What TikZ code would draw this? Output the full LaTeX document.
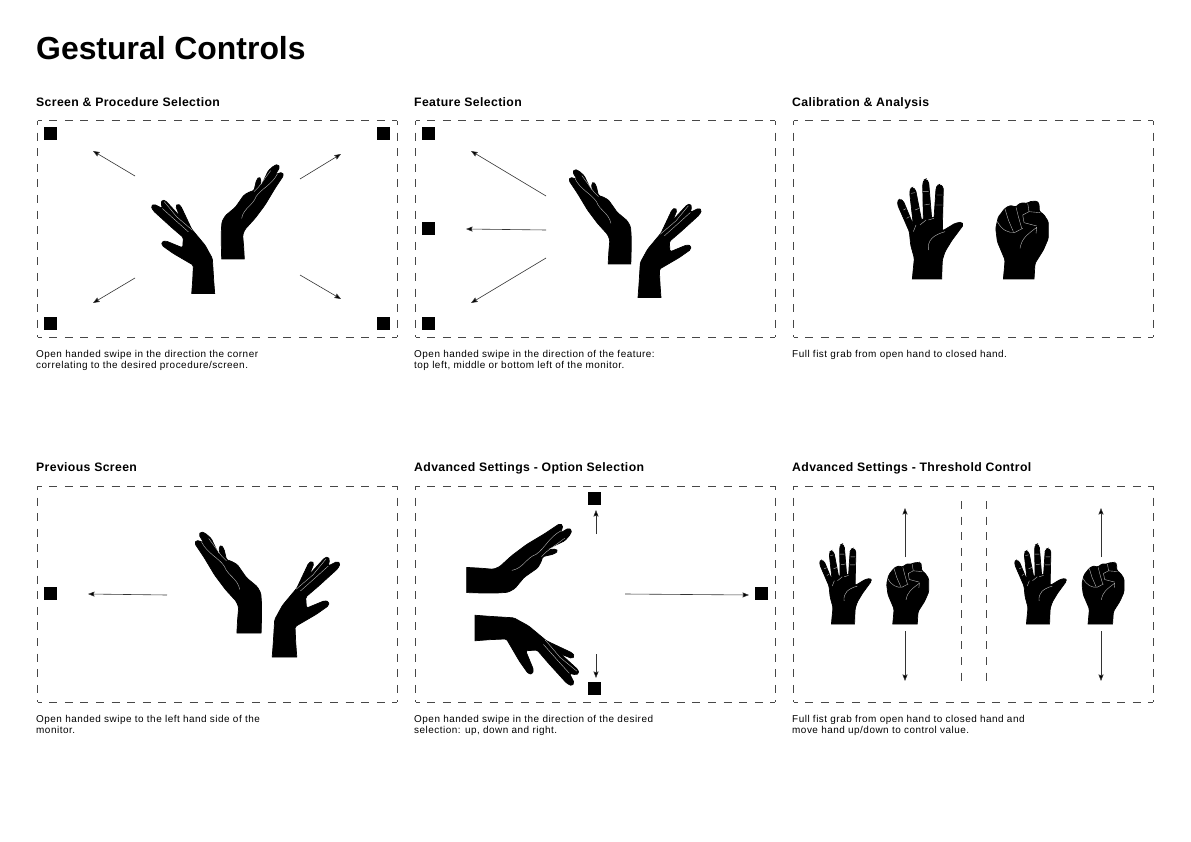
\documentclass[tikz,border=0pt]{standalone}
\usepackage{fontspec}
\setmainfont{Liberation Sans}
\newfontfamily\headfont[LetterSpace=3]{Liberation Sans}
\newfontfamily\capfont[LetterSpace=5]{Liberation Sans}
\usetikzlibrary{arrows.meta}
\tikzset{
  panel/.style={draw=black!72,line width=1pt,dash pattern=on 8pt off 7.6pt,dash phase=4pt},
  divider/.style={draw=black!72,line width=1pt,dash pattern=on 8pt off 7.6pt},
  marker/.style={fill=black,minimum size=13pt,inner sep=0pt,outer sep=0pt},
  swipe/.style={draw=black!80,line width=0.6pt,-{Stealth[length=6.5pt,width=5pt,inset=0.8pt,fill=black]}},
  crease/.style={draw=black!28,line width=0.4pt},
  solid hand/.style={fill=black,draw=black,line width=0.7pt},
  title/.style={anchor=base west,inner sep=0pt,font=\fontsize{31.9}{34}\selectfont\bfseries},
  heading/.style={anchor=base west,inner sep=0pt,font=\headfont\fontsize{12.25}{14}\selectfont\bfseries},
  caption/.style={anchor=north west,inner sep=0pt,align=left,font=\capfont\fontsize{9.95}{11}\selectfont},
}
\newcommand{\handN}{\begin{scope}[shift={(-309,-327)}]
\path[solid hand] (274,290) [sharp corners] -- (275,327)--(343,327)--(341,290) [rounded corners=1.5pt] --(338,255)--(345,238)--(375,205)--(405,165)--(435,115)--(461,76)--(457,67)--(445,70)--(436,74)--(449,52)--(444,43)--(432,47)--(415,62)--(397,100)--(390,112)--(393,87)--(387,80)--(379,92)--(372,122)--(360,125)--(342,135)--(316,172)--(286,197)--(276,215)--(274,240)--cycle;
\draw[crease] (335,205) .. controls (340,175) and (370,165) .. (378,140) .. controls (395,115) and (425,105) .. (442,72);
\draw[crease] (372,125)--(385,112)--(422,62);
\end{scope}}
\newcommand{\handT}{\begin{scope}[shift={(-219.5,-430)}]
\path[solid hand] (188,390) [sharp corners] -- (185,430)--(254,430)--(251,390) [rounded corners=1.5pt] --(247,325)--(225,285)--(185,237)--(152,167)--(143,161)--(137,168)--(150,200)--(140,188)--(107,152)--(97,149)--(93,158)--(97,175)--(72,162)--(63,168)--(70,182)--(125,232)--(160,262)--(158,293)--(107,272)--(95,275)--(96,286)--(130,310)--(190,345)--cycle;
\draw[crease] (103,155)--(140,200)--(187,240);
\draw[crease] (97,175)--(130,205)--(175,245);
\end{scope}}
\newcommand{\handOpen}{\begin{scope}[shift={(-141,-327)}]
\path[solid hand] (100,295) [sharp corners] -- (97,327)--(185,327)--(186,295) [rounded corners=1.5pt] --(187,270)--(195,245)--(215,212)--(250,165)--(245,156)--(225,160)--(187,183)--(190,52)--(180,43)--(172,46)--(168,55)--(162,145)--(155,145)--(146,36)--(138,27)--(132,30)--(128,42)--(130,150)--(125,152)--(107,60)--(98,52)--(92,55)--(89,68)--(100,165)--(70,93)--(60,87)--(53,92)--(53,105)--(88,185)--(92,225)--(103,265)--cycle;
\draw[crease] (145,240) .. controls (142,210) and (160,195) .. (195,185);
\draw[crease] (100,185)--(108,165) (120,165)--(138,150) (145,150)--(162,145);
\draw[crease] (70,120)--(78,116) (80,145)--(88,140) (93,70)--(105,68) (105,120)--(118,115) (128,65)--(146,65) (133,105)--(150,102) (170,75)--(188,75) (168,105)--(188,105);
\end{scope}}
\newcommand{\handFist}{\begin{scope}[shift={(-416,-327)}]
\path[solid hand] (373,295) [sharp corners] -- (370,327)--(462,327)--(464,295) [rounded corners=1.5pt] --(465,280)--(490,240)--(505,205)--(505,155)--(490,132)--(478,125)--(477,100)--(470,93)--(447,95)--(442,101)--(430,98)--(415,102)--(408,112)--(398,107)--(385,108)--(372,118)--(362,132)--(355,140)--(347,175)--(352,215)--(375,270)--cycle;
\draw[crease] (375,117)--(385,150)--(400,185);
\draw[crease] (408,112)--(415,140)--(425,175);
\draw[crease] (352,155) .. controls (365,180) and (385,190) .. (405,187) -- (428,175);
\draw[crease] (443,100)--(447,125)--(428,135)--(432,158)--(470,168);
\draw[crease] (447,125)--(480,128);
\draw[crease] (420,235) .. controls (425,205) and (440,195) .. (470,172)--(468,190);
\end{scope}}
\newcommand{\gest}[6]{\begin{scope}[shift={(#1,#2)},rotate=#3,xscale=#4/3,yscale=#5/3]#6\end{scope}}
\begin{document}
\begin{tikzpicture}[x=1pt,y=-1pt]
\useasboundingbox (0,0) rectangle (1191,842);
\fill[white] (0,0) rectangle (1191,842);
\node[title] (t) at (36,60) {Gestural Controls};
% headings
\node[heading] (h1) at (36,106.3) {Screen \& Procedure Selection};
\node[heading] (h2) at (414,106.3) {Feature Selection};
\node[heading] (h3) at (792,106.3) {Calibration \& Analysis};
\node[heading] (h4) at (36,471.3) {Previous Screen};
\node[heading] (h5) at (414,471.3) {Advanced Settings - Option Selection};
\node[heading] (h6) at (792,471.3) {Advanced Settings - Threshold Control};
% panels
\foreach \xa/\ya in {37.6/121,415.6/121,793.6/121,37.6/486,415.6/486,793.6/486}{
  \draw[panel] (\xa,\ya) -- ++(359.4,0);
  \draw[panel] (\xa,\ya+216) -- ++(359.4,0);
  \draw[panel] (\xa,\ya) -- ++(0,216);
  \draw[panel] (\xa+359.4,\ya) -- ++(0,216);
}
% captions
\node[caption] (c1) at (36,350.5) {Open handed swipe in the direction the corner\\correlating to the desired procedure/screen.};
\node[caption] (c2) at (414,350.5) {Open handed swipe in the direction of the feature:\\top left, middle or bottom left of the monitor.};
\node[caption] (c3) at (792,350.5) {Full fist grab from open hand to closed hand.};
\node[caption] (c4) at (36,715.5) {Open handed swipe to the left hand side of the\\monitor.};
\node[caption] (c5) at (414,715.5) {Open handed swipe in the direction of the desired\\selection: up, down and right.};
\node[caption] (c6) at (792,715.5) {Full fist grab from open hand to closed hand and\\move hand up/down to control value.};
% markers
\node[marker] (m1a) at (50.7,133.8) {};
\node[marker] (m1b) at (383.7,133.8) {};
\node[marker] (m1c) at (50.7,323.8) {};
\node[marker] (m1d) at (383.7,323.8) {};
\node[marker] (m2a) at (428.7,133.8) {};
\node[marker] (m2b) at (428.7,228.8) {};
\node[marker] (m2c) at (428.7,323.8) {};
\node[marker] (m4a) at (50.7,593.8) {};
\node[marker] (m5a) at (594.7,498.8) {};
\node[marker] (m5b) at (761.7,593.8) {};
\node[marker] (m5c) at (594.7,688.8) {};
% arrows
\foreach \xa/\ya/\xb/\yb in {135/176/93/151,300/179/341/154,135/278/93/303,300/275/341/299,
  546/196/471/151,546/230/466/229,546/258/471/303,167/595/88/594,
  596/534/596/510,596/654/596/678,625/594/749/595,
  905/557/905/508,905/631/905/681,1101/557/1101/508,1101/631/1101/681}
  {\coordinate (s) at (\xa,\ya); \coordinate (e) at (\xb,\yb); \draw[swipe] (s) -- (e);}
% inner separators
\coordinate (d1a) at (961,501); \coordinate (d1b) at (961,688);
\coordinate (d2a) at (986,501); \coordinate (d2b) at (986,688);
\draw[divider] (d1a) -- (d1b);
\draw[divider] (d2a) -- (d2b);
% hands
\gest{233}{259}{0}{1}{1}{\handN}
\gest{203.2}{293.5}{0}{1}{1}{\handT}
\gest{619.5}{264}{0}{-1}{1}{\handN}
\gest{649.5}{297.5}{0}{-1}{1}{\handT}
\gest{249}{633}{0}{-1.07}{1.07}{\handN}
\gest{284.5}{657}{0}{-1.07}{1.07}{\handT}
\gest{466.7}{580}{-90}{-1.11}{1.11}{\handN}
\gest{475}{628}{-90}{-1.11}{1.11}{\handT}
\gest{927}{279}{0}{1}{1}{\handOpen}
\gest{1018.7}{279}{0}{1}{1}{\handFist}
\gest{843}{624}{0}{.79}{.8}{\handOpen}
\gest{905}{624}{0}{.8}{.79}{\handFist}
\gest{1038}{624}{0}{.79}{.8}{\handOpen}
\gest{1100.3}{624}{0}{.8}{.79}{\handFist}
\end{tikzpicture}
\end{document}
